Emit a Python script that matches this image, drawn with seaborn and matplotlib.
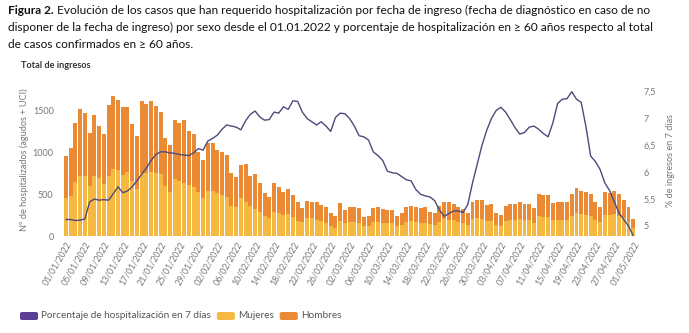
import pandas as pd
import matplotlib
matplotlib.use("Agg")
import matplotlib.pyplot as plt
from matplotlib.patches import FancyBboxPatch
import seaborn as sns

# Daily admissions since 01/01/2022
fechas = pd.date_range("2022-01-01", "2022-05-01", freq="D")
etiquetas = list(fechas.strftime("%d/%m/%Y"))

totales = [
    953, 1052, 1350, 1513, 1469, 1223, 1445, 1314, 1211, 1560,
    1662, 1620, 1540, 1540, 1335, 1195, 1608, 1575, 1608, 1550,
    1473, 1171, 1084, 1386, 1346, 1381, 1250, 1211, 996, 905,
    1112, 1112, 1024, 996, 965, 755, 700, 840, 856, 717,
    733, 630, 516, 466, 630, 582, 528, 555, 487, 407,
    335, 417, 410, 405, 370, 347, 268, 238, 398, 314,
    340, 340, 334, 230, 242, 337, 345, 322, 308, 306,
    242, 274, 350, 360, 350, 338, 340, 287, 278, 356,
    409, 401, 377, 349, 322, 270, 401, 429, 429, 369,
    377, 270, 250, 361, 385, 385, 409, 377, 377, 330,
    500, 488, 484, 389, 401, 401, 405, 500, 568, 536,
    520, 496, 401, 341, 520, 508, 536, 496, 429, 341,
    198,
]
mujeres = [
    449, 480, 639, 718, 718, 600, 718, 687, 620, 718,
    794, 786, 727, 758, 659, 560, 746, 746, 758, 746,
    740, 590, 528, 679, 655, 627, 607, 588, 528, 449,
    536, 536, 508, 488, 468, 361, 349, 449, 409, 360,
    322, 290, 240, 218, 290, 270, 250, 258, 230, 180,
    163, 210, 210, 191, 179, 155, 115, 100, 179, 151,
    170, 165, 160, 115, 120, 165, 170, 155, 150, 150,
    115, 130, 170, 175, 165, 160, 160, 140, 135, 170,
    200, 195, 185, 170, 155, 130, 200, 210, 205, 180,
    180, 130, 120, 180, 190, 190, 200, 185, 185, 160,
    235, 230, 230, 190, 195, 195, 195, 240, 275, 260,
    250, 240, 195, 165, 255, 250, 260, 240, 210, 165,
    95,
]
# % of admissions among confirmed cases aged >= 60 (7-day window)
porcentaje_7d = [
    5.12, 5.12, 5.10, 5.11, 5.13, 5.45, 5.50, 5.48, 5.49, 5.48,
    5.60, 5.73, 5.62, 5.65, 5.73, 5.84, 5.96, 6.08, 6.22, 6.33,
    6.38, 6.38, 6.36, 6.35, 6.33, 6.32, 6.31, 6.36, 6.44, 6.41,
    6.58, 6.63, 6.69, 6.80, 6.88, 6.86, 6.84, 6.79, 6.96, 7.08,
    7.14, 7.03, 6.97, 6.98, 7.12, 7.10, 7.22, 7.17, 7.33, 7.32,
    7.12, 7.00, 6.94, 6.88, 6.94, 6.86, 6.76, 7.02, 7.10, 7.09,
    7.00, 6.86, 6.68, 6.66, 6.60, 6.38, 6.31, 6.22, 6.02, 5.99,
    5.98, 5.92, 5.86, 5.84, 5.68, 5.59, 5.56, 5.54, 5.47, 5.30,
    5.18, 5.23, 5.28, 5.28, 5.25, 5.40, 5.80, 6.15, 6.50, 6.78,
    7.00, 7.15, 7.21, 7.12, 6.98, 6.83, 6.71, 6.74, 6.84, 6.86,
    6.80, 6.72, 6.66, 6.92, 7.28, 7.36, 7.37, 7.50, 7.36, 7.30,
    6.85, 6.30, 6.20, 6.05, 5.80, 5.66, 5.45, 5.24, 5.12, 5.00,
    4.82,
]

df = pd.DataFrame({"fecha": etiquetas, "total": totales, "mujeres": mujeres,
                   "porcentaje": porcentaje_7d})
df["hombres"] = df["total"] - df["mujeres"]
df["pos"] = range(len(df))

sns.set_theme(style="white")
plt.rcParams["font.family"] = ["Lato", "DejaVu Sans"]

C_MUJ = "#f5b942"
C_HOM = "#ea8a35"
C_LINE = "#4d4a7c"
C_TXT = "#777777"

W, H = 689, 333
fig = plt.figure(figsize=(W / 100, H / 100), dpi=100)
ax = fig.add_axes([62 / W, 1 - 236 / H, (637 - 62) / W, (236 - 89) / H])

# Stacked bars: full height (Hombres on top) then Mujeres at the base
sns.barplot(data=df, x="fecha", y="total", order=etiquetas, color=C_HOM,
            saturation=1, width=0.84, errorbar=None, linewidth=0, ax=ax)
sns.barplot(data=df, x="fecha", y="mujeres", order=etiquetas, color=C_MUJ,
            saturation=1, width=0.84, errorbar=None, linewidth=0, ax=ax)

ax2 = ax.twinx()
sns.lineplot(data=df, x="pos", y="porcentaje", color=C_LINE, lw=1.0, ax=ax2)

ax.set_xlim(-0.85, 120.8)
ax.set_ylim(0, 1750)
ax2.set_ylim(4.813, 7.55)

ax.set_yticks([0, 500, 1000, 1500])
ax.set_yticklabels(["0", "500", "1000", "1500"], fontsize=6.5, color=C_TXT)
r_ticks = [5, 5.5, 6, 6.5, 7, 7.5]
ax2.set_yticks(r_ticks)
ax2.set_yticklabels([f"{v:g}".replace(".", ",") for v in r_ticks],
                    fontsize=6.5, color=C_TXT)

ax.set_xticks(range(0, len(etiquetas), 4))
ax.set_xticklabels(etiquetas[::4], rotation=60, ha="right",
                   rotation_mode="anchor", fontsize=6.3, color=C_TXT)
ax.tick_params(axis="x", length=0, pad=3)
ax.tick_params(axis="y", length=0, pad=6)
ax2.tick_params(axis="y", length=0, pad=5)

ax.set_xlabel("")
ax.set_ylabel("Nº de hospitalizados (agudos + UCI)", fontsize=6.6, color=C_TXT)
ax.yaxis.set_label_coords(-0.057, 0.517)
ax2.set_ylabel("% de ingresos en 7 días", fontsize=6.6, color=C_TXT)
ax2.yaxis.set_label_coords(1.050, 0.514)
ax2.set_xlabel("")

for a in (ax, ax2):
    for s in a.spines.values():
        s.set_visible(False)
    a.grid(False)

# Caption
r = fig.canvas.get_renderer()
lineas = [
    "Evolución de los casos que han requerido hospitalización por fecha de ingreso (fecha de diagnóstico en caso de no",
    "disponer de la fecha de ingreso) por sexo desde el 01.01.2022 y porcentaje de hospitalización en ≥ 60 años respecto al total",
    "de casos confirmados en ≥ 60 años.",
]
fs_cap = 8.6
ys = [10, 27, 44]
t0 = fig.text(8 / W, 1 - ys[0] / H, "Figura 2.", fontsize=fs_cap, fontweight="bold",
              color="#111111", va="center", ha="left")
bb = t0.get_window_extent(r)
fig.text((bb.x1 + 3) / W, 1 - ys[0] / H, lineas[0], fontsize=fs_cap,
         color="#111111", va="center", ha="left")
for txt, yy in zip(lineas[1:], ys[1:]):
    fig.text(8 / W, 1 - yy / H, txt, fontsize=fs_cap, color="#111111",
             va="center", ha="left")

fig.text(21 / W, 1 - 66 / H, "Total de ingresos", fontsize=6.6, fontweight="bold",
         color="#333333", va="center", ha="left")

# Legend
x = 20
y_leg = 316
for etiqueta, col in [("Porcentaje de hospitalización en 7 días", "#5b3f96"),
                      ("Mujeres", C_MUJ), ("Hombres", C_HOM)]:
    fig.patches.append(FancyBboxPatch((x / W, (H - y_leg - 4) / H), 18 / W, 8 / H,
                                      boxstyle="round,pad=0,rounding_size=0.004",
                                      transform=fig.transFigure, facecolor=col,
                                      edgecolor="none"))
    t = fig.text((x + 21) / W, 1 - y_leg / H, etiqueta, fontsize=7.2, color="#555555",
                 va="center", ha="left")
    x = t.get_window_extent(r).x1 + 6

fig.savefig("out.png", dpi=100)
